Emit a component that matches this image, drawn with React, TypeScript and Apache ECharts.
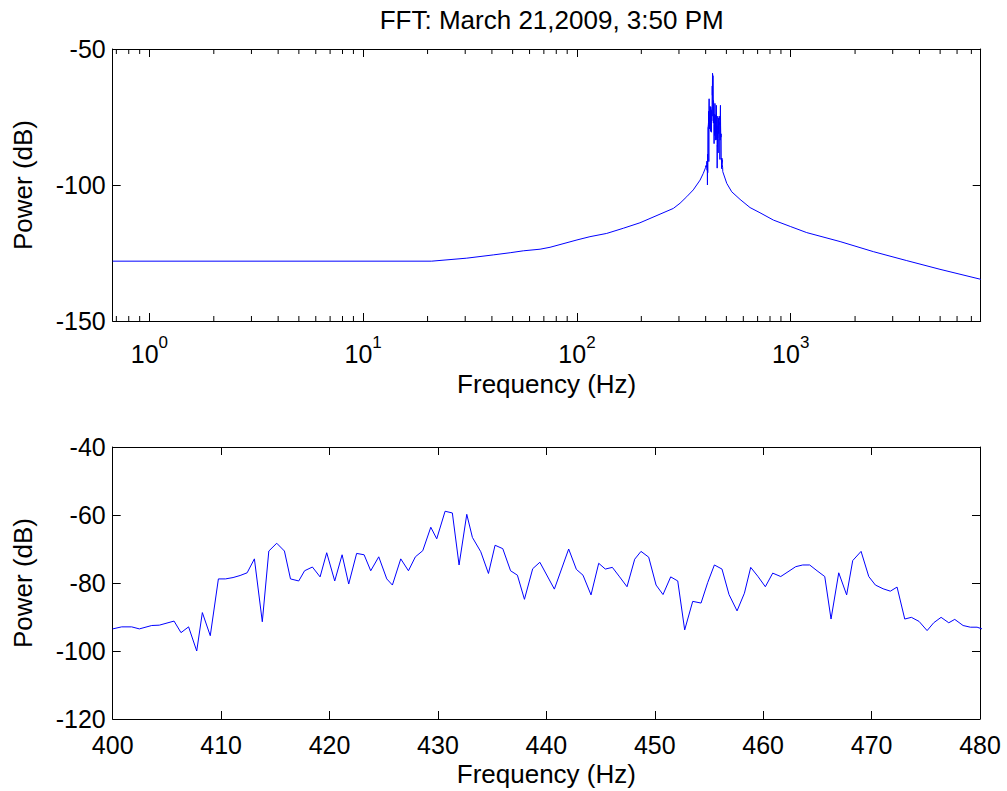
import React, { useEffect, useRef } from "react";
import * as echarts from "echarts";

const TITLE = "FFT: March 21,2009, 3:50 PM";
const X_NAME = "Frequency (Hz)";
const Y_NAME = "Power (dB)";

// Top plot: spectrum outside the 400-480 Hz window
const lowFreqs = [0.673, 20.9, 30.5, 40.6, 48.7, 56.1, 67.2, 74.8, 100, 115, 137.8, 164.8, 197, 282.5, 303.5, 326.3, 350, 376.6, 390];
const lowPower = [-128, -128, -126.9, -125.7, -124.9, -124.2, -123.6, -122.9, -120.2, -119.0, -117.8, -115.9, -113.9, -108.6, -106.7, -104.3, -101.8, -98.2, -95.7];
const highFreqs = [481, 502, 529.7, 579.5, 645, 718, 830, 1000, 1188, 1702, 2434, 3490, 4992, 7680, 7740];
const highPower = [-95.1, -99.4, -102.5, -105.3, -108.3, -110.2, -112.9, -115.3, -117.5, -120.8, -124.5, -127.8, -131, -134.6, -134.7];

// Peak window 400-480 Hz (bottom plot, also part of the top spectrum)
const peakFreqs = [
  400.0, 400.83, 401.75, 402.46, 403.6, 404.3, 405.66, 406.3, 407.0, 407.75,
  408.27, 409.0, 409.75, 410.4, 411.1, 411.75, 412.4, 413.07, 413.8, 414.4,
  415.13, 415.84, 416.4, 417.16, 417.7, 418.42, 419.13, 419.74, 420.48, 421.16,
  421.77, 422.5, 423.19, 423.8, 424.54, 425.28, 425.8, 426.57, 427.28, 427.92,
  428.6, 429.34, 429.89, 430.66, 431.33, 431.95, 432.66, 433.18, 433.95, 434.66,
  435.27, 435.98, 436.7, 437.33, 437.98, 438.74, 439.4, 440.74, 442.06, 442.77,
  443.38, 444.12, 444.83, 445.44, 446.09, 446.76, 447.44, 448.15, 448.73, 449.44,
  450.12, 450.76, 451.47, 452.12, 452.76, 453.5, 454.27, 454.88, 455.5, 456.2,
  456.85, 457.59, 458.27, 458.85, 459.5, 460.2, 460.88, 461.62, 462.29, 463.0,
  463.65, 464.29, 464.97, 465.68, 466.26, 466.97, 467.7, 468.26, 469.03, 469.74,
  470.35, 471.06, 471.73, 472.35, 473.06, 473.67, 474.38, 475.12, 475.73, 476.41,
  477.12, 477.67, 478.44, 479.11, 479.73, 480.19,
];
const peakPower = [
  -93.5, -92.9, -92.9, -93.5, -92.5, -92.4, -91.2, -94.6, -92.9, -100,
  -88.7, -95.5, -78.8, -78.8, -78.4, -77.8, -77.0, -72.9, -91.4, -70.6,
  -68.3, -70.6, -78.8, -79.4, -76.4, -75.3, -78.2, -71.1, -79.4, -71.7,
  -80.3, -71.3, -71.7, -76.4, -72.3, -78.8, -80.6, -72.9, -76.4, -72.3,
  -70.5, -63.6, -67.0, -58.9, -59.4, -74.7, -59.8, -66.6, -70.8, -77.2,
  -68.9, -69.9, -76.4, -77.7, -84.8, -75.8, -73.9, -81.8, -70.0, -76.0,
  -77.7, -83.5, -74.2, -75.9, -75.4, -78.2, -81.1, -73.0, -70.7, -72.4,
  -80.6, -83.4, -78.2, -79.4, -93.8, -85.4, -85.9, -79.9, -74.7, -75.9,
  -83.4, -88.2, -83.0, -75.4, -78.0, -81.1, -77.1, -78.1, -76.7, -75.2,
  -74.7, -74.7, -76.4, -78.1, -90.6, -77.0, -83.5, -73.4, -70.7, -78.1,
  -80.6, -81.7, -82.4, -81.2, -90.6, -90.1, -91.3, -94.0, -91.7, -90.1,
  -91.7, -90.7, -92.5, -93.0, -93.0, -93.5,
];

// Axis settings
const topXMin = 0.673;
const topXMax = 7740;
const topYMin = -150;
const topYMax = -50;
const topYStep = 50;
const botXMin = 400;
const botXMax = 480;
const botXStep = 10;
const botYMin = -120;
const botYMax = -40;
const botYStep = 20;
const logMinorTicks = [
  0.7, 0.8, 0.9, 2, 3, 4, 5, 6, 7, 8, 9, 20, 30, 40, 50, 60, 70, 80, 90,
  200, 300, 400, 500, 600, 700, 800, 900, 2000, 3000, 4000, 5000, 6000, 7000,
];

const FONT = "'Liberation Sans', Arial, Helvetica, sans-serif";
const FS = 26;
const TFS = 25;
const LINE_COLOR = "#0000ff";

export default function App() {
  const ref = useRef<HTMLDivElement>(null);

  useEffect(() => {
    if (!ref.current) return;
    const chart = echarts.init(ref.current, null, { renderer: "svg" });

    const topData: number[][] = [];
    lowFreqs.forEach((f, i) => topData.push([f, lowPower[i]]));
    peakFreqs.forEach((f, i) => topData.push([f, peakPower[i]]));
    highFreqs.forEach((f, i) => topData.push([f, highPower[i]]));
    const botData = peakFreqs.map((f, i) => [f, peakPower[i]]);

    const axisLine = { show: true, onZero: false, lineStyle: { color: "#000", width: 1 } };
    const tick = { show: true, inside: true, length: 8, lineStyle: { color: "#000", width: 1 } };
    const labelStyle = { color: "#000", fontSize: TFS, fontFamily: FONT, lineHeight: 20 };
    const nameStyle = { color: "#000", fontSize: FS, fontFamily: FONT };

    const option: any = {
      animation: false,
      backgroundColor: "#ffffff",
      title: {
        text: TITLE,
        left: 546.7,
        top: 2,
        textAlign: "center",
        textStyle: { fontSize: FS, fontWeight: "normal", color: "#000", fontFamily: FONT },
      },
      grid: [
        { left: 112.7, top: 49, width: 868, height: 272 },
        { left: 112.7, top: 447, width: 867.3, height: 272 },
      ],
      xAxis: [
        {
          gridIndex: 0,
          type: "log",
          logBase: 10,
          min: topXMin,
          max: topXMax,
          name: X_NAME,
          nameLocation: "middle",
          nameGap: 50,
          nameTextStyle: nameStyle,
          axisLine,
          axisTick: tick,
          splitLine: { show: false },
          axisLabel: {
            margin: 13,
            showMinLabel: false,
            showMaxLabel: false,
            formatter: (v: number) => `{b|10}{s|${Math.round(Math.log10(v))}}`,
            rich: {
              b: { fontSize: TFS, fontFamily: FONT, color: "#000", lineHeight: 40 },
              s: { fontSize: 17, fontFamily: FONT, color: "#000", lineHeight: 17, verticalAlign: "top" },
            },
          },
        },
        {
          gridIndex: 0,
          type: "log",
          logBase: 10,
          position: "top",
          min: topXMin,
          max: topXMax,
          axisLine,
          axisTick: tick,
          splitLine: { show: false },
          axisLabel: { show: false },
        },
        {
          gridIndex: 1,
          type: "value",
          min: botXMin,
          max: botXMax,
          interval: botXStep,
          name: X_NAME,
          nameLocation: "middle",
          nameGap: 42,
          nameTextStyle: nameStyle,
          axisLine,
          axisTick: tick,
          splitLine: { show: false },
          axisLabel: { ...labelStyle, margin: 16 },
        },
        {
          gridIndex: 1,
          type: "value",
          position: "top",
          min: botXMin,
          max: botXMax,
          interval: botXStep,
          axisLine,
          axisTick: tick,
          splitLine: { show: false },
          axisLabel: { show: false },
        },
      ],
      yAxis: [
        {
          gridIndex: 0,
          type: "value",
          min: topYMin,
          max: topYMax,
          interval: topYStep,
          name: Y_NAME,
          nameLocation: "middle",
          nameGap: 77,
          nameRotate: 90,
          nameTextStyle: nameStyle,
          axisLine,
          axisTick: tick,
          splitLine: { show: false },
          axisLabel: { ...labelStyle, margin: 7 },
        },
        {
          gridIndex: 0,
          type: "value",
          position: "right",
          min: topYMin,
          max: topYMax,
          interval: topYStep,
          axisLine,
          axisTick: tick,
          splitLine: { show: false },
          axisLabel: { show: false },
        },
        {
          gridIndex: 1,
          type: "value",
          min: botYMin,
          max: botYMax,
          interval: botYStep,
          name: Y_NAME,
          nameLocation: "middle",
          nameGap: 77,
          nameRotate: 90,
          nameTextStyle: nameStyle,
          axisLine,
          axisTick: tick,
          splitLine: { show: false },
          axisLabel: { ...labelStyle, margin: 7 },
        },
        {
          gridIndex: 1,
          type: "value",
          position: "right",
          min: botYMin,
          max: botYMax,
          interval: botYStep,
          axisLine,
          axisTick: tick,
          splitLine: { show: false },
          axisLabel: { show: false },
        },
      ],
      series: [
        {
          type: "line",
          xAxisIndex: 0,
          yAxisIndex: 0,
          data: topData,
          showSymbol: false,
          symbol: "none",
          lineStyle: { color: LINE_COLOR, width: 1 },
          silent: true,
        },
        {
          type: "custom",
          xAxisIndex: 0,
          yAxisIndex: 0,
          silent: true,
          clip: false,
          data: logMinorTicks.map((f) => [f, topYMin]),
          renderItem: (_p: any, api: any) => {
            const f = api.value(0);
            const b = api.coord([f, topYMin]);
            const t = api.coord([f, topYMax]);
            const style = { stroke: "#000", lineWidth: 1 };
            return {
              type: "group",
              children: [
                { type: "line", shape: { x1: b[0], y1: b[1], x2: b[0], y2: b[1] - 5 }, style },
                { type: "line", shape: { x1: t[0], y1: t[1], x2: t[0], y2: t[1] + 5 }, style },
              ],
            };
          },
        },
        {
          type: "line",
          xAxisIndex: 2,
          yAxisIndex: 2,
          data: botData,
          showSymbol: false,
          symbol: "none",
          lineStyle: { color: LINE_COLOR, width: 1 },
          silent: true,
        },
      ],
    };

    chart.setOption(option);
    return () => chart.dispose();
  }, []);

  return (
    <div
      ref={ref}
      style={{ position: "absolute", left: 0, top: 0, width: 1007, height: 791, background: "#fff" }}
    />
  );
}
